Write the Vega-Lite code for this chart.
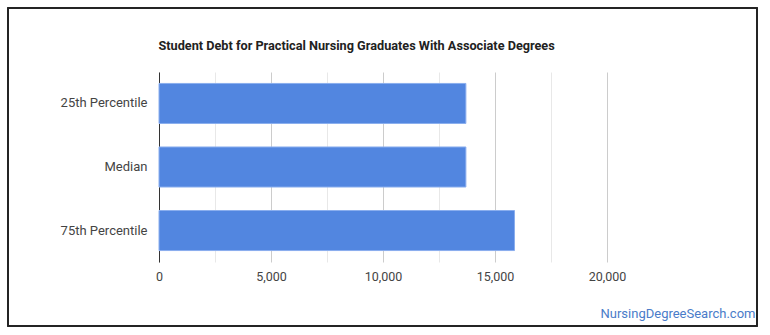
{
  "$schema": "https://vega.github.io/schema/vega-lite/v6.json",
  "autosize": "none",
  "width": 448,
  "height": 190,
  "padding": {"left": 159, "top": 72, "right": 163, "bottom": 73},
  "background": "white",
  "config": {"view": {"stroke": null}, "font": "Roboto"},
  "data": {"values": [
    {"category": "25th Percentile", "debt": 13700},
    {"category": "Median", "debt": 13700},
    {"category": "75th Percentile", "debt": 15870}
  ]},
  "layer": [
    {
      "mark": {"type": "rect", "fill": null, "stroke": "#222222", "strokeWidth": 1.5, "clip": false},
      "encoding": {
        "x": {"value": -151},
        "x2": {"value": 598},
        "y": {"value": -64},
        "y2": {"value": 254}
      }
    },
    {
      "mark": {"type": "bar", "color": "#5286e0", "stroke": "#8aaeee", "strokeWidth": 1},
      "encoding": {
        "y": {
          "field": "category", "type": "nominal", "sort": null,
          "scale": {"paddingInner": 0.37, "paddingOuter": 0.18},
          "axis": {
            "title": "Student Debt for Practical Nursing Graduates With Associate Degrees",
            "titleAngle": 0, "titleAlign": "left", "titleBaseline": "alphabetic", "titleAnchor": null,
            "titleX": -1, "titleY": -23, "titleFontSize": 12.7, "titleFontWeight": "bold", "titleColor": "#222222", "titleFont": "Roboto",
            "ticks": false, "domain": true, "domainColor": "#333333", "labelPadding": 12, "labelFontSize": 13, "labelColor": "#444444", "labelFont": "Roboto"}
        },
        "x": {
          "field": "debt", "type": "quantitative",
          "scale": {"domain": [0, 20000], "nice": false},
          "axis": {
            "title": "NursingDegreeSearch.com",
            "titleAnchor": "end", "titleAlign": "right", "titleBaseline": "alphabetic",
            "titleX": 596, "titleY": 55, "titleFontSize": 13, "titleFontWeight": "normal", "titleColor": "#4a7cc9", "titleFont": "Roboto",
            "values": [0, 2500, 5000, 7500, 10000, 12500, 15000, 17500, 20000],
            "labelExpr": "datum.value % 5000 === 0 ? datum.label : ''",
            "format": ",d",
            "labelFlush": false,
            "grid": true,
            "gridColor": {"condition": {"test": "datum.value % 5000 === 0", "value": "#cccccc"}, "value": "#e8e8e8"},
            "domain": false, "ticks": false, "labelPadding": 8, "labelFontSize": 12.5, "labelColor": "#444444", "labelFont": "Roboto"
          }
        }
      }
    }
  ]
}
